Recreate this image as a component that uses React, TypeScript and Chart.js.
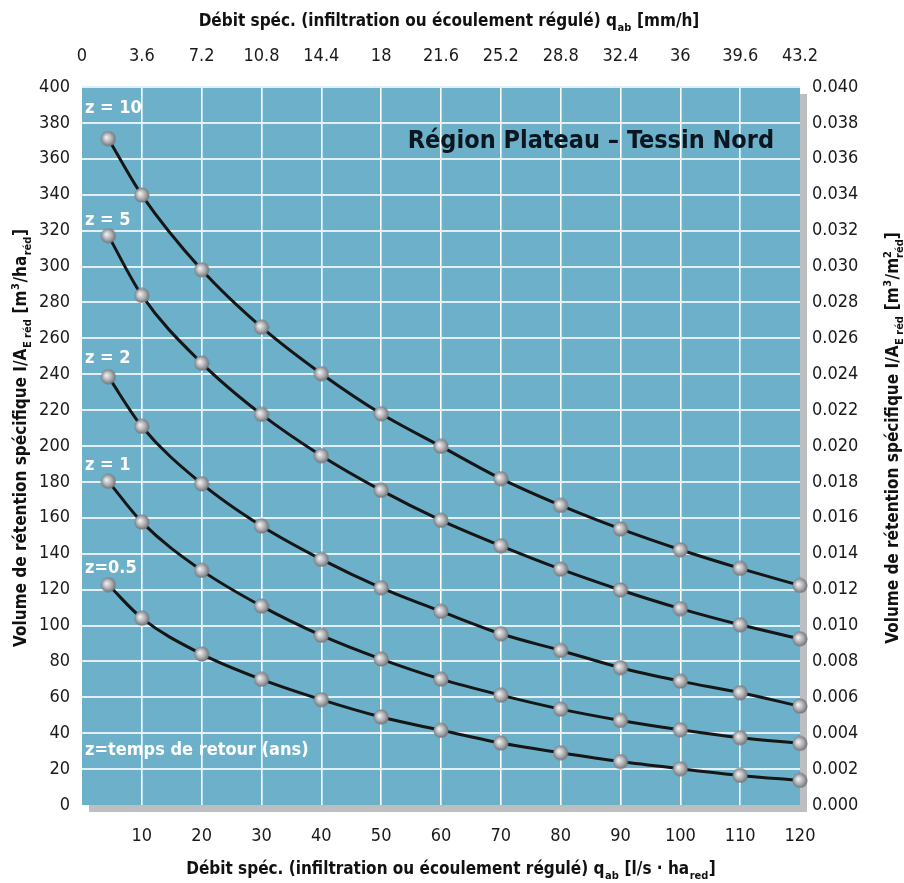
import React, { useEffect, useRef } from "react";
import { Chart, registerables } from "chart.js";
Chart.register(...registerables);

// ---- data ----
const qValues = [4.4, 10, 20, 30, 40, 50, 60, 70, 80, 90, 100, 110, 120];
const z10 = [371.2, 339.8, 298.2, 266.2, 240.3, 218, 199.8, 181.8, 166.9, 153.8, 142.2, 131.8, 122.3];
const z5 = [317.2, 283.9, 246.2, 217.6, 194.6, 175.3, 158.6, 144.4, 131.4, 119.8, 109.4, 100.4, 92.6];
const z2 = [238.6, 210.9, 179, 155.4, 136.8, 121, 107.9, 95.4, 86.1, 76.5, 69, 62.5, 55.1];
const z1 = [180.3, 157.6, 130.7, 110.8, 94.5, 81.3, 70.1, 61.2, 53.4, 47.1, 41.9, 37.5, 34.3];
const z05 = [122.7, 104.1, 84.1, 70, 58.7, 49, 41.6, 34.5, 29.1, 24.2, 20.2, 16.5, 13.7];
const seriesNames = ["z = 10", "z = 5", "z = 2", "z = 1", "z=0.5"];
const seriesLabelValues = [388, 326, 249, 189, 132];
const noteText = "z=temps de retour (ans)";
const noteValue = 30.4;
const titleText = "Région Plateau – Tessin Nord";
const bottomTicks = [10, 20, 30, 40, 50, 60, 70, 80, 90, 100, 110, 120];
const topTicks = [0, 3.6, 7.2, 10.8, 14.4, 18, 21.6, 25.2, 28.8, 32.4, 36, 39.6, 43.2];
const leftTicks = [0, 20, 40, 60, 80, 100, 120, 140, 160, 180, 200, 220, 240, 260, 280, 300, 320, 340, 360, 380, 400];
const rightTicks = [0, 0.002, 0.004, 0.006, 0.008, 0.01, 0.012, 0.014, 0.016, 0.018, 0.02, 0.022, 0.024, 0.026, 0.028, 0.03, 0.032, 0.034, 0.036, 0.038, 0.04];

const FONT = '"DejaVu Sans Condensed", "Liberation Sans Narrow", "Arial Narrow", sans-serif';
const BLUE = "#6cb0ca";
const SHADOW = "#bdbec0";

type Seg = { t: string; k?: "n" | "sub" | "sup" | "stack"; t2?: string };

const topTitle: Seg[] = [
  { t: "Débit spéc. (infiltration ou écoulement régulé) q" },
  { t: "ab", k: "sub" },
  { t: " [mm/h]" },
];
const bottomTitle: Seg[] = [
  { t: "Débit spéc. (infiltration ou écoulement régulé) q" },
  { t: "ab", k: "sub" },
  { t: " [l/s · ha" },
  { t: "red", k: "sub" },
  { t: "]" },
];
const leftTitle: Seg[] = [
  { t: "Volume de rétention spécifique I/A" },
  { t: "E réd", k: "sub" },
  { t: " [m" },
  { t: "3", k: "sup" },
  { t: "/ha" },
  { t: "réd", k: "sub" },
  { t: "]" },
];
const rightTitle: Seg[] = [
  { t: "Volume de rétention spécifique I/A" },
  { t: "E réd", k: "sub" },
  { t: " [m" },
  { t: "3", k: "sup" },
  { t: "/m" },
  { t: "2", k: "stack", t2: "réd" },
  { t: "]" },
];

function drawRich(ctx: CanvasRenderingContext2D, segs: Seg[], size: number, cx: number, cy: number) {
  const main = `bold ${size}px ${FONT}`;
  const small = `bold ${Math.round(size * 0.64)}px ${FONT}`;
  const widths = segs.map((s) => {
    if (!s.k || s.k === "n") {
      ctx.font = main;
      return ctx.measureText(s.t).width;
    }
    ctx.font = small;
    if (s.k === "stack") return Math.max(ctx.measureText(s.t).width, ctx.measureText(s.t2 || "").width);
    return ctx.measureText(s.t).width + 1;
  });
  const total = widths.reduce((a, b) => a + b, 0);
  let x = cx - total / 2;
  const base = cy + size * 0.36;
  ctx.textAlign = "left";
  ctx.textBaseline = "alphabetic";
  ctx.fillStyle = "#111";
  segs.forEach((s, i) => {
    if (!s.k || s.k === "n") {
      ctx.font = main;
      ctx.fillText(s.t, x, base);
    } else {
      ctx.font = small;
      if (s.k === "sub") ctx.fillText(s.t, x + 0.5, base + size * 0.28);
      if (s.k === "sup") ctx.fillText(s.t, x + 0.5, base - size * 0.42);
      if (s.k === "stack") {
        ctx.fillText(s.t, x, base - size * 0.42);
        ctx.fillText(s.t2 || "", x, base + size * 0.28);
      }
    }
    x += widths[i];
  });
}

function makeBall(): HTMLCanvasElement {
  const c = document.createElement("canvas");
  c.width = 16;
  c.height = 16;
  const g = c.getContext("2d")!;
  const grad = g.createRadialGradient(6, 6.5, 0.5, 8, 8, 8.5);
  grad.addColorStop(0, "#f0f0f1");
  grad.addColorStop(0.5, "#aeafb2");
  grad.addColorStop(1, "#606166");
  g.fillStyle = grad;
  g.beginPath();
  g.arc(8, 8, 7.5, 0, Math.PI * 2);
  g.fill();
  return c;
}

const decorPlugin = {
  id: "decor",
  beforeDraw(chart: any) {
    const { ctx, chartArea: a } = chart;
    ctx.save();
    ctx.fillStyle = SHADOW;
    ctx.fillRect(a.left + 7, a.top + 7, a.right - a.left, a.bottom - a.top);
    ctx.fillStyle = BLUE;
    ctx.fillRect(a.left, a.top, a.right - a.left, a.bottom - a.top);
    ctx.restore();
  },
  afterDraw(chart: any) {
    const { ctx, chartArea: a } = chart;
    const ys = chart.scales.y;
    ctx.save();
    // series labels
    ctx.fillStyle = "#ffffff";
    ctx.font = `bold 18px ${FONT}`;
    ctx.textAlign = "left";
    ctx.textBaseline = "middle";
    seriesNames.forEach((n, i) => {
      ctx.fillText(n, a.left + 3, ys.getPixelForValue(seriesLabelValues[i]));
    });
    ctx.fillText(noteText, a.left + 3, ys.getPixelForValue(noteValue));
    // region title
    ctx.fillStyle = "#0b1620";
    ctx.font = `bold 25px ${FONT}`;
    ctx.textAlign = "right";
    ctx.fillText(titleText, a.right - 26, a.top + 54);
    // axis titles
    const midX = (a.left + a.right) / 2 + 8;
    const midY = (a.top + a.bottom) / 2 - 8;
    drawRich(ctx, topTitle, 17, midX, 20);
    drawRich(ctx, bottomTitle, 17, midX + 2, 868);
    ctx.save();
    ctx.translate(20, midY);
    ctx.rotate(-Math.PI / 2);
    drawRich(ctx, leftTitle, 17, 0, 0);
    ctx.restore();
    ctx.save();
    ctx.translate(892, midY);
    ctx.rotate(-Math.PI / 2);
    drawRich(ctx, rightTitle, 17, 0, 0);
    ctx.restore();
    ctx.restore();
  },
};

export default function App() {
  const ref = useRef<HTMLCanvasElement | null>(null);
  useEffect(() => {
    if (!ref.current) return;
    const ball = makeBall();
    const series = [z10, z5, z2, z1, z05];
    const tickFont = { family: FONT, size: 18 };
    const chart = new Chart(ref.current, {
      type: "line",
      data: {
        datasets: series.map((s, i) => ({
          label: seriesNames[i],
          data: s.map((v, j) => ({ x: qValues[j], y: v })),
          borderColor: "#161616",
          borderWidth: 3,
          cubicInterpolationMode: "monotone" as const,
          pointStyle: ball as any,
          pointRadius: 8,
          clip: false as any,
          xAxisID: "x",
          yAxisID: "y",
        })),
      },
      options: {
        animation: false,
        responsive: false,
        layout: { padding: 0 },
        plugins: { legend: { display: false }, tooltip: { enabled: false } },
        scales: {
          x: {
            type: "linear",
            position: "bottom",
            min: 0,
            max: 120,
            afterBuildTicks: (s: any) => {
              s.ticks = bottomTicks.map((v) => ({ value: v }));
            },
            afterFit: (s: any) => {
              s.height = 78;
            },
            border: { display: false },
            grid: {
              drawTicks: false,
              color: (c: any) => (c.tick && c.tick.value >= 120 ? "rgba(0,0,0,0)" : "#ffffff"),
              lineWidth: 1.6,
            },
            ticks: { font: tickFont, color: "#1a1a1a", padding: 21, maxRotation: 0, autoSkip: false },
          },
          x2: {
            type: "linear",
            position: "top",
            min: 0,
            max: 43.2,
            afterBuildTicks: (s: any) => {
              s.ticks = topTicks.map((v) => ({ value: v }));
            },
            afterFit: (s: any) => {
              s.height = 87;
            },
            border: { display: false },
            grid: { display: false, drawTicks: false },
            ticks: {
              font: tickFont,
              color: "#1a1a1a",
              padding: 20,
              maxRotation: 0,
              autoSkip: false,
              callback: (v: any) => String(Math.round(Number(v) * 10) / 10),
            },
          },
          y: {
            type: "linear",
            position: "left",
            min: 0,
            max: 400,
            afterBuildTicks: (s: any) => {
              s.ticks = leftTicks.map((v) => ({ value: v }));
            },
            afterFit: (s: any) => {
              s.width = 82;
            },
            border: { display: false },
            grid: {
              drawTicks: false,
              color: (c: any) => (c.tick && c.tick.value <= 0 ? "rgba(0,0,0,0)" : "#e2eff4"),
              lineWidth: 2,
            },
            ticks: { font: tickFont, color: "#1a1a1a", padding: 12, autoSkip: false },
          },
          y2: {
            type: "linear",
            position: "right",
            min: 0,
            max: 0.04,
            afterBuildTicks: (s: any) => {
              s.ticks = rightTicks.map((v) => ({ value: v }));
            },
            afterFit: (s: any) => {
              s.width = 104;
            },
            border: { display: false },
            grid: { display: false, drawTicks: false },
            ticks: {
              font: tickFont,
              color: "#1a1a1a",
              padding: 12,
              autoSkip: false,
              callback: (v: any) => Number(v).toFixed(3),
            },
          },
        },
      } as any,
      plugins: [decorPlugin],
    });
    return () => chart.destroy();
  }, []);
  return (
    <div style={{ position: "fixed", left: 0, top: 0, width: 904, height: 883, background: "#fff" }}>
      <canvas ref={ref} width={904} height={883} style={{ width: 904, height: 883, display: "block" }} />
    </div>
  );
}
